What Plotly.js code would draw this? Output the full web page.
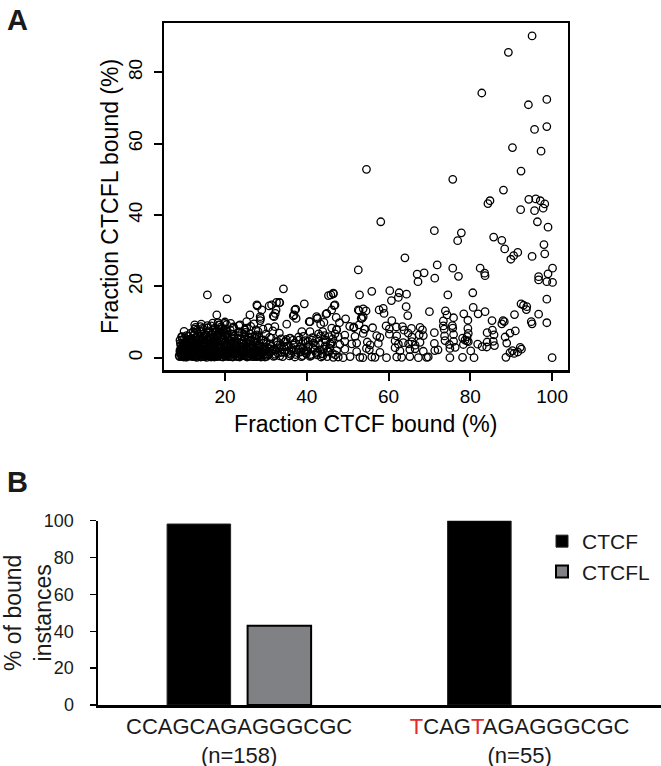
<!DOCTYPE html>
<html>
<head>
<meta charset="utf-8">
<script src="https://cdn.plot.ly/plotly-3.0.1.min.js"></script>
<style>
html,body{margin:0;padding:0;background:#fff;}
#chart{width:661px;height:766px;}
</style>
</head>
<body>
<div id="chart"></div>
<script>
// ---------- Panel A: scatter ----------
// Fraction CTCF bound (%), dense low-occupancy cluster
var clusterCTCF = [
  8.9, 9.1, 9.4, 9.6, 9.9, 10.2, 10.4, 10.8, 11.1, 11.5,
  11.8, 12.1, 12.4, 12.8, 13.1, 13.5, 13.8, 14.2, 14.5, 14.9,
  15.2, 15.6, 15.9, 16.3, 16.6, 17.0, 17.3, 17.7, 18.0, 18.4,
  18.7, 19.1, 19.4, 19.8, 20.1, 20.5, 20.8, 21.2, 21.5, 21.9,
  9.0, 9.5, 10.0, 10.6, 11.3, 11.9, 12.6, 13.3, 13.9, 14.6,
  15.3, 15.8, 16.4, 17.1, 17.8, 18.5, 19.2, 19.9, 20.6, 21.3,
  9.2, 9.7, 10.3, 10.9, 11.4, 12.0, 12.7, 13.2, 13.7, 14.4,
  15.0, 15.5, 16.1, 16.8, 17.5, 18.2, 18.9, 19.6, 20.3, 21.0,
  9.3, 9.8, 10.5, 11.0, 11.7, 12.3, 12.9, 13.6, 14.1, 14.8,
  15.4, 16.0, 16.7, 17.2, 17.9, 18.6, 19.3, 20.0, 20.7, 21.4,
  22.1, 22.4, 22.8, 23.1, 23.5, 23.9, 24.3, 24.6, 25.0, 25.4,
  25.8, 26.2, 26.5, 26.9, 27.3, 27.7, 28.0, 28.4, 28.8, 29.2,
  22.0, 22.6, 23.3, 24.0, 24.7, 25.3, 26.0, 26.7, 27.4, 28.1,
  28.7, 29.4, 29.8, 30.3, 30.8, 31.3, 31.9, 32.4, 33.0, 33.5,
  34.1, 34.6, 35.2, 35.8, 36.4, 37.1, 37.8, 38.4, 39.0, 39.6,
  40.2, 40.8, 41.4, 42.0, 42.6, 43.2, 43.8, 44.4, 45.0, 45.6,
  30.0, 30.6, 31.1, 31.7, 32.2, 32.8, 33.3, 33.9, 34.4, 35.0,
  35.5, 36.1, 36.7, 37.4, 38.0, 38.7, 39.3, 39.9, 40.5, 41.1,
  41.7, 42.3, 42.9, 43.5, 44.1, 44.7, 45.3, 45.9, 46.4, 47.0,
  9.6, 10.1, 10.7, 11.2, 11.9, 12.5, 13.0, 13.6, 14.3, 14.9,
  15.5, 16.2, 16.9, 17.6, 18.1, 18.8, 19.5, 20.2, 20.9, 21.6,
  22.3, 22.9, 23.6, 24.4, 25.2, 25.9, 26.6, 27.2, 27.9, 28.5,
  12.2, 12.6, 13.4, 14.0, 16.6, 17.4, 18.3, 19.0, 19.7, 20.4,
  23.4, 24.1, 24.8, 25.6, 26.3, 27.1, 27.8, 28.6, 29.3, 29.9,
  9.0, 9.4, 9.9, 10.3, 10.8, 11.3, 11.7, 12.2, 12.7, 13.1,
  13.6, 14.0, 14.6, 15.1, 15.7, 16.2, 16.5, 17.1, 17.6, 18.1,
  18.5, 19.0, 19.5, 20.0, 20.4, 21.0, 21.7, 22.2, 22.7, 23.2,
  23.8, 24.5, 25.1, 25.7, 26.4, 27.0, 27.5, 28.2, 28.9, 29.5,
  9.2, 9.7, 10.4, 11.0, 11.6, 12.3, 13.0, 13.7, 14.4, 15.0,
  15.8, 16.5, 17.2, 17.8, 18.4, 19.2, 19.9, 20.6, 21.3, 22.0
];
// Fraction CTCFL bound (%), same points
var clusterCTCFL = [
  0.3, 1.2, 2.4, 0.8, 3.6, 1.7, 0.2, 2.9, 4.4, 1.1,
  0.5, 2.2, 3.3, 1.4, 0.1, 5.1, 2.6, 0.9, 3.9, 1.8,
  0.4, 2.7, 4.6, 1.3, 0.2, 3.1, 5.7, 0.8, 2.0, 6.9,
  1.5, 0.3, 3.4, 7.8, 2.2, 0.6, 4.8, 1.0, 2.9, 0.2,
  4.9, 5.8, 3.0, 6.2, 2.6, 4.1, 6.8, 2.0, 7.4, 5.5,
  6.3, 8.4, 4.2, 7.1, 4.5, 9.2, 5.9, 9.6, 6.5, 7.7,
  1.9, 0.6, 1.4, 0.4, 3.2, 1.0, 0.3, 3.7, 0.6, 2.4,
  1.3, 0.1, 2.1, 0.9, 1.8, 0.5, 3.9, 1.1, 0.4, 2.6,
  0.9, 3.1, 2.3, 5.0, 1.6, 3.0, 1.9, 0.8, 4.7, 0.4,
  3.6, 1.0, 2.9, 5.2, 0.3, 2.4, 1.2, 4.3, 1.6, 3.8,
  1.3, 3.6, 0.4, 5.4, 2.0, 0.9, 3.0, 6.6, 1.5, 0.2,
  2.8, 4.5, 0.7, 1.9, 6.1, 0.3, 3.5, 1.2, 5.0, 2.3,
  6.0, 2.5, 7.2, 4.1, 0.5, 8.3, 1.1, 3.3, 2.4, 7.4,
  0.6, 4.0, 0.2, 2.8, 1.0, 5.5, 0.4, 2.1, 1.2, 3.6,
  0.3, 4.4, 1.7, 0.5, 2.6, 0.2, 1.4, 3.1, 0.6, 4.8,
  1.9, 0.4, 5.6, 2.3, 0.8, 3.7, 1.1, 6.2, 0.3, 2.7,
  6.6, 1.8, 3.9, 7.5, 0.6, 4.6, 6.9, 1.5, 3.0, 5.1,
  3.4, 0.9, 4.9, 2.2, 5.8, 0.3, 2.0, 1.1, 3.5, 0.6,
  4.1, 1.3, 6.7, 0.2, 2.4, 4.5, 1.6, 3.8, 5.3, 0.8,
  2.7, 4.3, 0.2, 1.8, 5.4, 0.6, 2.5, 3.4, 1.3, 6.1,
  2.1, 4.7, 0.5, 2.3, 7.7, 3.3, 0.8, 8.1, 0.3, 5.3,
  4.4, 1.5, 0.2, 2.2, 4.0, 0.6, 5.8, 1.3, 0.4, 3.0,
  7.2, 8.0, 6.1, 8.7, 8.9, 7.9, 9.8, 8.6, 7.0, 9.3,
  9.0, 6.9, 7.8, 5.0, 8.8, 9.5, 6.4, 10.4, 8.0, 2.0,
  1.6, 0.4, 0.9, 2.9, 1.5, 0.7, 2.0, 1.7, 2.8, 0.9,
  1.5, 2.6, 2.1, 3.0, 1.9, 0.5, 3.7, 1.8, 3.3, 1.1,
  2.8, 3.2, 2.0, 0.5, 3.5, 1.9, 2.5, 1.0, 2.9, 1.4,
  3.2, 1.0, 2.4, 0.5, 2.3, 1.6, 0.4, 2.6, 1.8, 0.8,
  3.4, 4.0, 3.8, 3.5, 4.8, 2.4, 4.6, 4.0, 3.2, 4.4,
  5.0, 3.9, 4.2, 6.0, 4.9, 4.4, 6.2, 3.0, 4.1, 3.4
];
// More of the dense cluster (CTCF %, then CTCFL %)
var denseCTCF = [
  8.8, 9.0, 9.3, 9.5, 9.8, 10.0, 10.3, 10.6, 10.9, 11.2,
  11.4, 11.7, 12.0, 12.3, 12.6, 12.9, 13.2, 13.5, 13.8, 14.1,
  14.4, 14.7, 15.0, 15.3, 15.6, 15.9, 16.2, 16.5, 16.8, 17.1,
  17.4, 17.7, 18.0, 18.3, 18.6, 18.9, 19.2, 19.5, 19.8, 20.1,
  20.4, 20.7, 21.0, 21.3, 21.6, 21.9, 22.2, 22.5, 22.8, 23.1,
  23.4, 23.7, 24.0, 24.3, 24.6, 24.9, 25.2, 25.5, 25.8, 26.1,
  26.4, 26.7, 27.0, 27.3, 27.6, 27.9, 28.2, 28.5, 28.8, 29.1,
  9.1, 9.6, 10.1, 10.5, 11.0, 11.5, 12.0, 12.4, 12.9, 13.4,
  13.9, 14.3, 14.8, 15.3, 15.8, 16.3, 16.8, 17.3, 17.8, 18.3,
  18.8, 19.3, 19.8, 20.3, 20.8, 21.3, 21.8, 22.3, 22.8, 23.3,
  23.8, 24.3, 24.8, 25.3, 25.8, 26.3, 26.8, 27.3, 27.8, 28.3,
  9.4, 9.9, 10.4, 10.9, 11.4, 11.9, 12.4, 12.9, 13.4, 13.9,
  14.4, 14.9, 15.4, 15.9, 16.4, 16.9, 17.4, 17.9, 18.4, 18.9,
  19.4, 19.9, 20.4, 20.9, 21.4, 21.9, 22.4, 22.9, 23.4, 23.9,
  24.4, 24.9, 25.4, 25.9, 26.4, 26.9, 27.4, 27.9, 28.4, 28.9,
  29.6, 30.2, 30.7, 31.2, 31.8, 32.3, 32.9, 33.4, 34.0, 34.5,
  35.1, 35.6, 36.2, 36.8, 37.3, 37.9, 38.5, 39.1, 39.7, 40.3,
  40.9, 41.5, 42.1, 42.7, 43.3, 43.9, 44.5, 45.1, 45.7, 46.3,
  29.4, 30.1, 30.9, 31.5, 32.6, 33.7, 34.8, 35.9, 37.0, 38.1,
  39.2, 40.3, 41.3, 42.4, 43.4, 44.5, 45.5, 30.4, 31.0, 33.1,
  10.0, 11.6, 13.1, 14.7, 16.0, 17.5, 19.0, 20.5, 22.1, 23.7,
  12.8, 14.2, 15.7, 17.0, 18.5, 20.0, 21.4, 25.0, 26.0, 27.6
];
var denseCTCFL = [
  0.6, 2.1, 1.4, 3.0, 0.3, 2.6, 3.9, 1.2, 0.5, 2.3,
  3.5, 1.5, 0.3, 4.2, 1.6, 2.7, 0.7, 3.3, 1.8, 0.2,
  2.9, 4.0, 0.7, 2.4, 1.1, 3.6, 2.8, 1.3, 4.1, 0.4,
  2.3, 4.4, 0.9, 3.7, 1.7, 2.6, 4.9, 0.2, 2.9, 1.2,
  2.0, 3.4, 0.6, 2.7, 1.4, 4.0, 2.2, 0.8, 3.6, 0.3,
  1.7, 2.9, 0.5, 3.8, 1.9, 0.7, 3.2, 2.0, 0.3, 1.4,
  3.0, 0.4, 2.8, 1.0, 4.1, 2.2, 0.6, 3.4, 0.2, 1.6,
  4.1, 5.0, 5.4, 4.5, 6.0, 5.2, 4.8, 6.4, 5.6, 5.1,
  6.0, 5.2, 6.7, 5.6, 7.0, 5.9, 6.5, 5.3, 7.2, 6.2,
  5.6, 7.0, 5.1, 6.3, 5.8, 4.7, 6.6, 5.5, 4.6, 6.2,
  5.3, 4.6, 5.9, 4.3, 5.7, 4.9, 4.4, 5.4, 4.8, 5.8,
  1.0, 0.2, 1.8, 0.8, 1.9, 0.6, 1.2, 0.4, 2.2, 1.0,
  1.6, 0.3, 1.7, 0.6, 1.0, 2.0, 0.2, 1.3, 0.4, 0.9,
  1.4, 0.6, 1.0, 1.5, 0.3, 2.1, 0.9, 1.8, 0.5, 2.3,
  0.8, 1.4, 0.4, 1.9, 0.9, 0.3, 1.2, 0.7, 1.9, 1.1,
  2.9, 0.4, 1.6, 3.2, 2.3, 1.0, 3.6, 0.5, 2.4, 1.5,
  3.1, 1.2, 2.0, 3.5, 0.9, 2.4, 1.6, 2.7, 1.4, 3.0,
  0.9, 2.7, 3.5, 1.7, 2.2, 0.5, 3.3, 1.9, 4.0, 1.2,
  5.0, 4.4, 5.7, 1.9, 4.3, 5.3, 4.6, 5.5, 4.1, 4.9,
  6.0, 4.6, 4.9, 5.3, 6.1, 5.0, 5.9, 0.9, 2.5, 2.8,
  7.4, 6.9, 7.7, 7.9, 7.5, 8.3, 8.1, 7.4, 8.6, 7.2,
  8.5, 9.4, 9.0, 9.7, 8.0, 10.0, 9.6, 7.1, 6.7, 7.8
];
// Scattered points above the cluster, left half
var leftCTCF = [
  15.7, 20.5, 34.3, 39.4, 33.4, 30.8, 27.9, 29.0, 32.5, 32.3,
  31.8, 28.7, 26.1, 37.1, 36.7, 35.1, 18.0, 45.3, 44.7, 42.6,
  43.4, 43.9, 40.6, 12.6, 14.5, 18.8, 22.0, 23.7, 25.3, 24.9,
  9.4, 45.9, 46.7, 46.1, 32.6, 32.0, 37.4, 42.6, 44.2, 30.6,
  27.8, 31.4, 28.6, 33.3, 36.9, 37.3, 40.8, 42.4, 46.5, 44.9,
  47.3, 38.8, 40.8, 32.2, 35.9, 39.1
];
var leftCTCFL = [
  17.6, 16.5, 19.3, 15.1, 15.4, 14.5, 14.5, 13.4, 13.4, 12.4,
  11.7, 11.0, 12.0, 13.4, 11.7, 9.4, 12.0, 17.4, 12.2, 11.0,
  9.4, 7.3, 10.1, 9.2, 8.2, 9.2, 8.2, 9.2, 10.1, 7.8,
  5.9, 17.6, 14.6, 13.4, 15.5, 11.5, 11.0, 11.0, 9.9, 8.4,
  14.8, 14.8, 11.5, 15.5, 12.0, 13.6, 10.1, 11.5, 18.1, 12.4,
  7.8, 7.3, 7.3, 8.7, 5.4, 4.5
];
// Points in the right half above ~8 %
var rightCTCF = [
  95.1, 89.3, 82.8, 98.7, 94.2, 98.7, 95.7, 90.3, 97.3, 54.6,
  92.4, 75.7, 88.1, 94.3, 96.0, 97.1, 98.2, 97.8, 95.7, 92.3,
  84.8, 84.3, 96.4, 58.1, 99.0, 71.2, 77.8, 76.9, 85.7, 87.7,
  88.4, 98.0, 98.2, 91.6, 90.6, 89.9, 64.0, 95.1, 52.6, 82.4,
  83.5, 83.6, 71.9, 75.7, 77.1, 67.0, 68.7, 67.2, 71.3, 100.1,
  99.0, 96.7, 96.7, 98.7, 100.1, 98.7, 55.9, 52.9, 60.3, 62.6,
  64.4, 62.4, 60.7, 74.5, 80.6, 46.5, 46.9, 64.3, 64.7, 57.7,
  58.7, 58.9, 52.8, 54.5, 53.5, 53.8, 70.0, 73.9, 74.3, 75.9,
  73.4, 73.6, 75.6, 80.7, 81.9, 83.6, 78.4, 79.4, 79.4, 85.3,
  88.0, 87.7, 88.3, 90.8, 92.4, 93.0, 93.8, 93.7, 96.7, 94.9,
  95.1, 98.7, 84.1, 85.4, 85.8, 88.5, 89.7, 91.0, 53.3, 51.5,
  52.8, 54.2, 53.8, 52.6, 48.0, 49.5, 50.5, 47.2, 60.8, 61.9
];
var rightCTCFL = [
  90.2, 85.6, 74.2, 72.4, 70.9, 64.8, 64.0, 58.9, 57.9, 52.8,
  52.3, 50.0, 47.0, 44.4, 44.5, 44.0, 43.1, 41.9, 41.2, 41.5,
  44.0, 43.2, 38.1, 38.1, 36.6, 35.6, 35.0, 32.8, 33.8, 32.9,
  30.5, 31.7, 29.1, 29.5, 28.6, 27.6, 28.0, 28.4, 24.6, 25.1,
  23.7, 23.0, 26.0, 25.1, 22.8, 23.4, 23.8, 21.3, 22.3, 25.1,
  23.5, 22.7, 21.8, 21.3, 21.1, 16.4, 18.6, 17.6, 18.8, 18.2,
  17.8, 16.9, 16.0, 17.6, 18.2, 17.9, 14.8, 14.3, 11.8, 13.4,
  13.8, 12.4, 13.2, 13.1, 11.0, 11.5, 12.9, 13.1, 12.0, 11.2,
  10.3, 8.0, 9.0, 14.1, 12.3, 12.9, 12.3, 10.5, 8.2, 10.4,
  10.4, 9.5, 10.1, 12.1, 15.1, 14.7, 14.3, 13.5, 12.2, 10.1,
  9.5, 9.8, 7.0, 7.7, 6.4, 5.8, 6.9, 7.5, 11.0, 8.4,
  9.2, 8.0, 13.7, 13.4, 9.8, 10.9, 8.8, 11.3, 10.4, 8.6
];
// Low band of the right half (CTCFL below ~9 %)
var bandCTCF = [
  46.5, 47.7, 48.9, 50.6, 53.0, 53.7, 55.9, 56.7, 59.5, 62.0,
  63.2, 65.2, 67.3, 69.3, 69.7, 75.0, 78.1, 80.9, 88.7, 100.0,
  47.3, 49.3, 52.2, 54.6, 55.3, 57.9, 61.6, 62.8, 65.2, 66.5,
  68.5, 71.3, 72.1, 75.0, 80.1, 82.9, 84.0, 85.9, 89.7, 90.3,
  91.6, 92.5, 76.3, 78.3, 90.7, 92.2,
  46.1, 48.1, 49.3, 51.0, 52.2, 54.8, 55.5, 57.5, 61.6, 62.4,
  63.6, 64.9, 65.7, 66.5, 67.7, 71.2, 73.8, 74.9, 75.9, 78.7,
  79.2, 79.5, 81.8, 84.1, 85.6, 88.9,
  46.9, 47.7, 49.3, 51.8, 53.8, 57.1, 57.9, 60.2, 62.0, 64.8,
  65.7, 67.5, 68.5, 71.2, 73.7, 75.9, 78.1, 79.2, 79.5,
  46.1, 47.3, 51.5, 54.1, 56.1, 59.4, 60.2, 63.4, 63.8, 65.6,
  67.7, 68.3, 73.4, 75.7
];
var bandCTCFL = [
  0.1, 0.2, 0.0, 0.3, 0.1, 0.0, 0.2, 0.1, 0.0, 0.2,
  0.1, 0.3, 0.0, 0.1, 0.2, 0.0, 0.1, 0.0, 0.1, 0.0,
  2.0, 2.4, 1.7, 2.6, 2.2, 1.5, 2.8, 1.9, 2.3, 2.5,
  1.8, 2.0, 2.2, 2.6, 1.9, 3.1, 3.0, 3.4, 1.4, 2.0,
  1.6, 2.4, 2.9, 3.7, 1.2, 2.9,
  4.3, 3.7, 4.6, 3.9, 4.1, 4.4, 3.6, 4.0, 4.7, 3.8,
  4.2, 3.9, 4.5, 3.5, 4.3, 4.0, 4.8, 3.7, 4.6, 4.9,
  4.7, 4.5, 3.8, 4.4, 4.6, 4.1,
  6.7, 5.9, 6.3, 6.0, 6.8, 6.2, 5.7, 6.6, 6.1, 6.9,
  5.8, 6.4, 6.2, 7.0, 6.1, 6.5, 5.5, 5.9, 6.8,
  8.3, 7.9, 8.6, 8.0, 8.4, 8.9, 8.1, 8.7, 7.7, 8.2,
  8.5, 7.8, 8.9, 8.3
];
var scatterXTicks = [20, 40, 60, 80, 100];
var scatterYTicks = [0, 20, 40, 60, 80];

// ---------- Panel B: bars ----------
var motifs = ['CCAGCAGAGGGCGC', 'TCAGTAGAGGGCGC'];
var motifLabels = [
  'CCAGCAGAGGGCGC<br>(n=158)',
  '<span style="color:#e8262b">T</span>CAG<span style="color:#e8262b">T</span>AGAGGGCGC<br>(n=55)'
];
var ctcfPct = [98.2, 100];
var ctcflPct = [43.0, 0];
var barYTicks = [0, 20, 40, 60, 80, 100];

var FONT = 'Liberation Sans, Arial, Helvetica, sans-serif';

var fracCTCF = clusterCTCF.concat(denseCTCF, leftCTCF, rightCTCF, bandCTCF);
var fracCTCFL = clusterCTCFL.concat(denseCTCFL, leftCTCFL, rightCTCFL, bandCTCFL);

var traces = [
  {
    type: 'scatter', mode: 'markers',
    x: fracCTCF, y: fracCTCFL,
    xaxis: 'x', yaxis: 'y',
    marker: {symbol: 'circle-open', size: 7.5, color: '#000', line: {width: 1.3, color: '#000'}},
    showlegend: false, hoverinfo: 'skip'
  },
  {
    type: 'bar', name: 'CTCF',
    x: motifs, y: ctcfPct, xaxis: 'x2', yaxis: 'y2',
    marker: {color: '#000', line: {color: '#222', width: 1}}
  },
  {
    type: 'bar', name: 'CTCFL',
    x: motifs, y: ctcflPct, xaxis: 'x2', yaxis: 'y2',
    marker: {color: '#808184', line: {color: '#000', width: [2, 0]}}
  }
];

var layout = {
  width: 661, height: 766,
  margin: {l: 0, r: 0, t: 0, b: 0},
  paper_bgcolor: '#fff', plot_bgcolor: '#fff',
  font: {family: FONT, color: '#000'},
  barmode: 'group', bargap: 0.426, bargroupgap: 0.211,
  xaxis: {
    domain: [164 / 661, 567.5 / 661], anchor: 'y',
    range: [5.09, 103.76], tickmode: 'array', tickvals: scatterXTicks,
    showgrid: false, zeroline: false,
    showline: true, linewidth: 2.5, linecolor: '#000', mirror: true,
    ticks: 'outside', ticklen: 8, tickwidth: 2, tickcolor: '#000',
    tickfont: {size: 19, family: FONT, color: '#000'},
    title: {text: 'Fraction CTCF bound (%)', font: {size: 23, family: FONT, color: '#000'}, standoff: 10}
  },
  yaxis: {
    domain: [1 - 370 / 766, 1 - 23 / 766], anchor: 'x',
    range: [-3.45, 93.82], tickmode: 'array', tickvals: scatterYTicks,
    showgrid: false, zeroline: false,
    showline: true, linewidth: 2.5, linecolor: '#000', mirror: true,
    ticks: 'outside', ticklen: 8, tickwidth: 2, tickcolor: '#000',
    tickangle: -90, ticklabelstandoff: 4,
    tickfont: {size: 19, family: FONT, color: '#000'},
    title: {text: 'Fraction CTCFL bound (%)', font: {size: 23, family: FONT, color: '#000'}, standoff: 0}
  },
  xaxis2: {
    domain: [98 / 661, 1], anchor: 'y2',
    range: [-0.503, 1.504],
    tickmode: 'array', tickvals: motifs, ticktext: motifLabels,
    showgrid: false, zeroline: false,
    showline: true, linewidth: 2.5, linecolor: '#000',
    ticks: '',
    tickfont: {size: 22, family: FONT, color: '#1a1a1a'}
  },
  yaxis2: {
    domain: [1 - 705 / 766, 1 - 520.7 / 766], anchor: 'x2',
    range: [0, 100], tickmode: 'array', tickvals: barYTicks,
    showgrid: false, zeroline: false,
    showline: true, linewidth: 2.5, linecolor: '#000',
    ticks: 'outside', ticklen: 6, tickwidth: 1.5, tickcolor: '#000',
    ticklabelstandoff: 12,
    tickfont: {size: 18, family: FONT, color: '#1a1a1a'},
    title: {text: '% of bound<br>instances', font: {size: 23, family: FONT, color: '#1a1a1a'}, standoff: 4}
  },
  legend: {
    x: 542 / 661, y: 1 - 521 / 766, xanchor: 'left', yanchor: 'top',
    bgcolor: 'rgba(0,0,0,0)', borderwidth: 0,
    font: {size: 21, family: FONT, color: '#1a1a1a'},
    tracegroupgap: 2
  },
  annotations: [
    {text: '<b>A</b>', xref: 'paper', yref: 'paper', x: 5 / 661, y: 1 - 2 / 766,
     xanchor: 'left', yanchor: 'top', showarrow: false, font: {size: 29, family: FONT, color: '#1a1a1a'}},
    {text: '<b>B</b>', xref: 'paper', yref: 'paper', x: 5 / 661, y: 1 - 464 / 766,
     xanchor: 'left', yanchor: 'top', showarrow: false, font: {size: 29, family: FONT, color: '#1a1a1a'}}
  ]
};

Plotly.newPlot('chart', traces, layout, {displayModeBar: false, staticPlot: true});
</script>
</body>
</html>
